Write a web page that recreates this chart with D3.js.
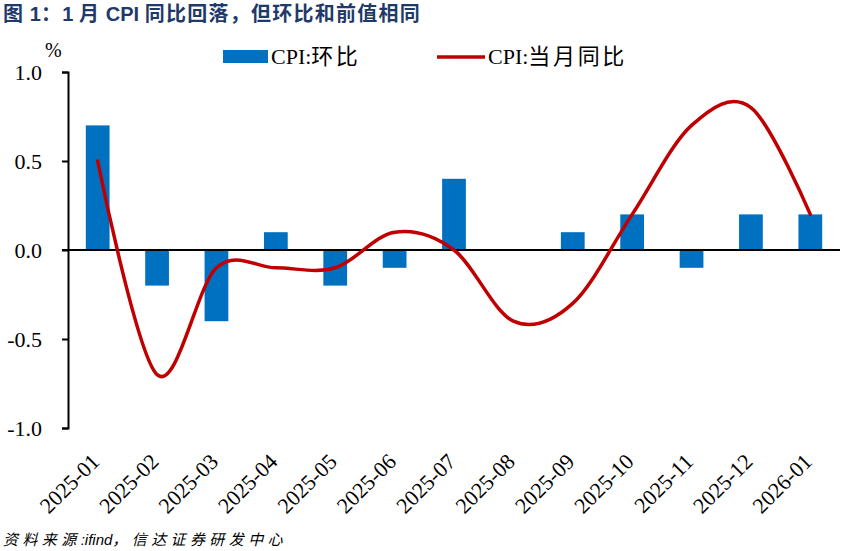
<!DOCTYPE html>
<html>
<head>
<meta charset="utf-8">
<script src="https://cdn.jsdelivr.net/npm/d3@7"></script>
<style>
  body { margin: 0; background: #fff; }
  svg { display: block; }
</style>
</head>
<body>
<div id="vis"></div>
<script>
// data
const MONTHS = ["2025-01", "2025-02", "2025-03", "2025-04", "2025-05", "2025-06", "2025-07",
                "2025-08", "2025-09", "2025-10", "2025-11", "2025-12", "2026-01"];
const CPI_MOM = [0.7, -0.2, -0.4, 0.1, -0.2, -0.1, 0.4, 0.0, 0.1, 0.2, -0.1, 0.2, 0.2];
const CPI_YOY = [0.5, -0.7, -0.1, -0.1, -0.1, 0.1, 0.0, -0.4, -0.3, 0.2, 0.7, 0.8, 0.2];
const Y_TICKS = [-1.0, -0.5, 0.0, 0.5, 1.0];

// frame constants
const FRAME_WIDTH = 846;
const FRAME_HEIGHT = 551;
const PLOT = {left: 68, right: 840, top: 72, bottom: 428};
const SERIF = "'Liberation Serif', 'Times New Roman', 'Noto Sans CJK SC', serif";
const SANS = "'Liberation Sans', Arial, 'Noto Sans CJK SC', sans-serif";
const BAR_COLOR = "#0070C0";
const LINE_COLOR = "#C00000";

const FRAME = d3.select("#vis")
    .append("svg")
    .attr("width", FRAME_WIDTH)
    .attr("height", FRAME_HEIGHT);

const X_SCALE = d3.scaleBand()
    .domain(MONTHS)
    .range([PLOT.left, PLOT.right])
    .paddingInner(0.6)
    .paddingOuter(0.3);
const Y_SCALE = d3.scaleLinear()
    .domain([-1, 1])
    .range([PLOT.bottom, PLOT.top]);

const center = (m) => X_SCALE(m) + X_SCALE.bandwidth() / 2;

// text with CJK runs spaced out, latin runs left alone
const CJK = /[\u3000-\u9fff\uff00-\uffef]/;
function mixedText(sel, str, opts) {
    const runs = str.match(/[\u3000-\u9fff\uff00-\uffef]+|[^\u3000-\u9fff\uff00-\uffef]+/g);
    const spans = runs.map((r) => sel.append("tspan").text(r).classed("cjk", CJK.test(r)));
    let ls = opts.spacing || 0;
    if (opts.width) {
        const natural = sel.node().getComputedTextLength();
        const n = runs.filter((r) => CJK.test(r)).join("").length;
        ls = (opts.width - natural) / n;
    }
    sel.selectAll("tspan.cjk").attr("letter-spacing", ls);
    return sel;
}

// title
mixedText(FRAME.append("text")
    .attr("x", 3)
    .attr("y", 21)
    .attr("font-family", SANS)
    .attr("font-weight", "bold")
    .attr("font-size", 20)
    .attr("fill", "#1F3A68"),
    "图 1：1 月 CPI 同比回落，但环比和前值相同", {width: 418});

// bars
FRAME.selectAll(".bar")
    .data(MONTHS)
    .enter()
    .append("rect")
    .attr("class", "bar")
    .attr("x", (d) => X_SCALE(d))
    .attr("width", X_SCALE.bandwidth())
    .attr("y", (d, i) => Y_SCALE(Math.max(0, CPI_MOM[i])))
    .attr("height", (d, i) => Math.abs(Y_SCALE(CPI_MOM[i]) - Y_SCALE(0)))
    .attr("fill", BAR_COLOR);

// zero line
FRAME.append("line")
    .attr("x1", PLOT.left - 6)
    .attr("x2", PLOT.right)
    .attr("y1", Y_SCALE(0))
    .attr("y2", Y_SCALE(0))
    .attr("stroke", "#000")
    .attr("stroke-width", 2);

// y axis
const yAxis = FRAME.append("g")
    .attr("transform", "translate(" + PLOT.left + ",0)")
    .call(d3.axisLeft(Y_SCALE)
        .tickValues(Y_TICKS)
        .tickSize(6)
        .tickSizeOuter(6)
        .tickPadding(20)
        .tickFormat((d) => d.toFixed(1)));
yAxis.selectAll("path, line").attr("stroke", "#000").attr("stroke-width", 2);
yAxis.selectAll("text")
    .attr("font-family", SERIF)
    .attr("font-size", 22)
    .attr("fill", "#000");

// x labels, rotated
FRAME.selectAll(".xlab")
    .data(MONTHS)
    .enter()
    .append("text")
    .attr("class", "xlab")
    .attr("transform", (d) => "translate(" + (center(d) + 3) + ",463) rotate(-45)")
    .attr("text-anchor", "end")
    .attr("font-family", SERIF)
    .attr("font-size", 22)
    .attr("fill", "#000")
    .text((d) => d);

// yoy line, smoothed like the spreadsheet
const line = d3.line()
    .x((d, i) => center(MONTHS[i]))
    .y((d) => Y_SCALE(d))
    .curve(d3.curveCardinal.tension(0));
FRAME.append("path")
    .datum(CPI_YOY)
    .attr("d", line)
    .attr("fill", "none")
    .attr("stroke", LINE_COLOR)
    .attr("stroke-width", 3.5)
    .attr("stroke-linecap", "round");

// unit
FRAME.append("text")
    .attr("x", 45)
    .attr("y", 57)
    .attr("font-family", SERIF)
    .attr("font-size", 20)
    .text("%");

// legend
FRAME.append("rect")
    .attr("x", 223).attr("y", 50)
    .attr("width", 45).attr("height", 13)
    .attr("fill", BAR_COLOR);
mixedText(FRAME.append("text")
    .attr("x", 271).attr("y", 64)
    .attr("font-family", SERIF)
    .attr("font-size", 22),
    "CPI:环比", {width: 89});
FRAME.append("line")
    .attr("x1", 437).attr("x2", 485)
    .attr("y1", 57).attr("y2", 57)
    .attr("stroke", LINE_COLOR)
    .attr("stroke-width", 3.5);
mixedText(FRAME.append("text")
    .attr("x", 488).attr("y", 64)
    .attr("font-family", SERIF)
    .attr("font-size", 22),
    "CPI:当月同比", {width: 139});

// source
mixedText(FRAME.append("text")
    .attr("x", 3)
    .attr("y", 545)
    .attr("font-family", SANS)
    .attr("font-style", "italic")
    .attr("font-size", 15)
    .attr("fill", "#000"),
    "资料来源:ifind，信达证券研发中心", {width: 284});
</script>
</body>
</html>
